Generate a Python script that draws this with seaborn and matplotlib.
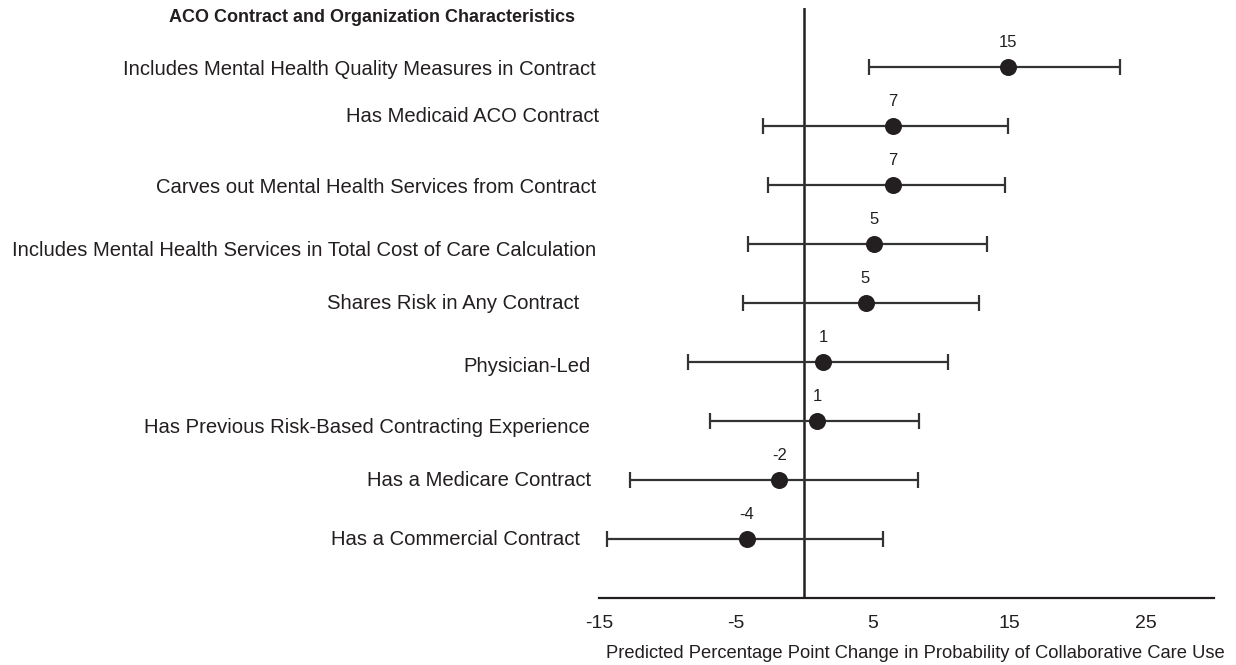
import matplotlib
matplotlib.use("Agg")
import matplotlib.pyplot as plt
import matplotlib.transforms as mtransforms
import numpy as np
import pandas as pd
import seaborn as sns

# Characteristics, point estimates and 95% confidence limits (percentage points)
characteristics = [
    "Includes Mental Health Quality Measures in Contract",
    "Has Medicaid ACO Contract",
    "Carves out Mental Health Services from Contract",
    "Includes Mental Health Services in Total Cost of Care Calculation",
    "Shares Risk in Any Contract",
    "Physician-Led",
    "Has Previous Risk-Based Contracting Experience",
    "Has a Medicare Contract",
    "Has a Commercial Contract",
]
estimates = [14.9, 6.5, 6.5, 5.1, 4.5, 1.4, 0.95, -1.8, -4.2]
lower_ci = [4.75, -3.0, -2.6, -4.1, -4.45, -8.5, -6.85, -12.7, -14.45]
upper_ci = [23.1, 14.9, 14.7, 13.4, 12.8, 10.5, 8.4, 8.35, 5.8]
value_labels = ["15", "7", "7", "5", "5", "1", "1", "-2", "-4"]
x_ticks = [-15, -5, 5, 15, 25]

df = pd.DataFrame({
    "label": characteristics,
    "est": estimates,
    "lo": lower_ci,
    "hi": upper_ci,
    "row": np.arange(1, len(characteristics) + 1),
})

sns.set_theme(style="white")
plt.rcParams["font.family"] = ["Liberation Sans", "DejaVu Sans"]

ink = "#231f20"
line_col = "#333333"

fig = plt.figure(figsize=(12.36, 6.65), dpi=100)
W, H = 1236, 665
ax = fig.add_axes([599 / W, 1 - 598 / H, (1214 - 599) / W, (598 - 8) / H])

# confidence intervals
ax.errorbar(
    x=df["est"], y=df["row"],
    xerr=[df["est"] - df["lo"], df["hi"] - df["est"]],
    fmt="none", ecolor=line_col, elinewidth=1.6, capsize=5.5, capthick=1.6,
    zorder=2,
)
# point estimates
sns.scatterplot(data=df, x="est", y="row", ax=ax, s=150, color=ink,
                edgecolor=ink, linewidth=0, zorder=3, legend=False)

# reference line at zero
ax.axvline(0, color=ink, lw=1.8, zorder=1)

# value labels above each point
for est, row, txt in zip(df["est"], df["row"], value_labels):
    ax.annotate(txt, (est, row), xytext=(0, 12), textcoords="offset points",
                ha="center", va="bottom", fontsize=12, color=ink)

# row labels, nudged (dx, dy in points) to sit as typeset
label_nudge = [(-1, -1.5), (1, 6.5), (-1, -1.5), (-1, -5), (-13, -0.5),
               (-5, -3), (-5.5, -4.5), (-5, -0.5), (-13, -0.5)]
trans = mtransforms.blended_transform_factory(ax.transAxes, ax.transData)
for (lab, row), (dx, dy) in zip(zip(df["label"], df["row"]), label_nudge):
    ax.annotate(lab, (0, row), xycoords=trans, xytext=(dx - 1, dy),
                textcoords="offset points", ha="right", va="center",
                fontsize=14.6, color=ink, annotation_clip=False)

# section heading
fig.text(372 / W, 1 - 17 / H, "ACO Contract and Organization Characteristics",
         ha="center", va="center", fontsize=13, fontweight="bold", color=ink)

ax.set_xlim(-15, 30)
ax.set_ylim(10, 0)
ax.set_xticks(x_ticks)
ax.set_xticklabels([str(t) for t in x_ticks], fontsize=14, color=ink)
ax.tick_params(axis="x", length=0, pad=12)
ax.set_yticks([])
ax.set_ylabel("")
ax.set_xlabel("Predicted Percentage Point Change in Probability of Collaborative Care Use",
              fontsize=13.2, color=ink)
ax.xaxis.set_label_coords(0.515, -0.08)

for side in ["top", "right", "left"]:
    ax.spines[side].set_visible(False)
ax.spines["bottom"].set_color(ink)
ax.spines["bottom"].set_linewidth(1.6)

fig.savefig("out.png", dpi=100, facecolor="white")
